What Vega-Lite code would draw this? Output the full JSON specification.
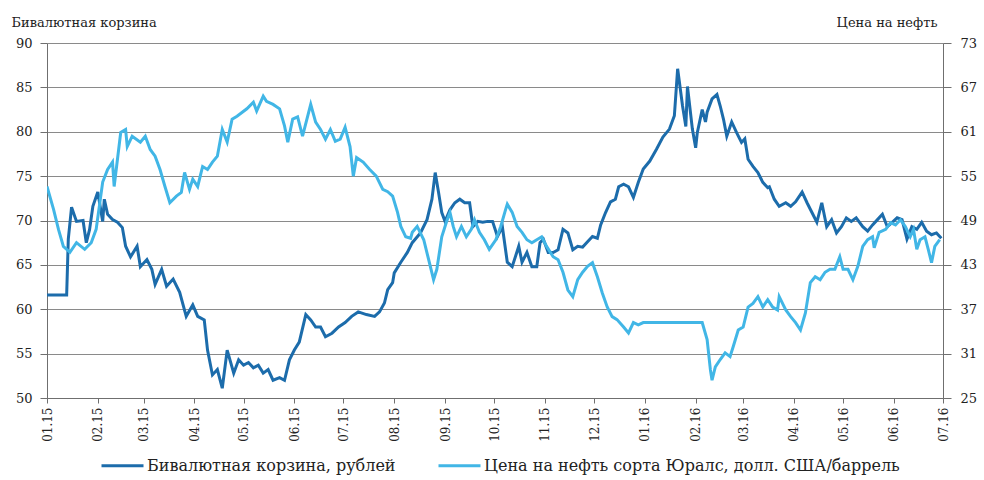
{
  "$schema": "https://vega.github.io/schema/vega-lite/v6.json",
  "width": 896,
  "height": 355,
  "autosize": {"type": "none"},
  "padding": {"left": 47, "top": 43, "right": 41, "bottom": 82},
  "background": "white",
  "config": {
    "view": {"stroke": null},
    "font": "DejaVu Serif",
    "axis": {"labelFont": "DejaVu Serif", "titleFont": "DejaVu Serif", "labelColor": "#222", "titleColor": "#222", "domainColor": "#6f6f6f", "tickColor": "#6f6f6f", "labelFontSize": 13, "titleFontSize": 13, "titleFontWeight": "normal"},
    "legend": {"labelFont": "DejaVu Serif", "labelFontSize": 16, "labelColor": "#222"}
  },
  "datasets": {
    "basket": [
      {"d": "2015-01-01", "v": 61.6}, {"d": "2015-01-13", "v": 61.6}, {"d": "2015-01-14", "v": 67.9}, {"d": "2015-01-16", "v": 71.5},
      {"d": "2015-01-19", "v": 69.9}, {"d": "2015-01-23", "v": 70.0}, {"d": "2015-01-25", "v": 67.5}, {"d": "2015-01-27", "v": 69.0},
      {"d": "2015-01-29", "v": 71.6}, {"d": "2015-02-01", "v": 73.2}, {"d": "2015-02-04", "v": 69.9}, {"d": "2015-02-05", "v": 72.4},
      {"d": "2015-02-07", "v": 70.7}, {"d": "2015-02-10", "v": 70.1}, {"d": "2015-02-13", "v": 69.8}, {"d": "2015-02-16", "v": 69.2},
      {"d": "2015-02-18", "v": 67.1}, {"d": "2015-02-21", "v": 65.9}, {"d": "2015-02-25", "v": 67.1}, {"d": "2015-02-27", "v": 64.8},
      {"d": "2015-03-03", "v": 65.6}, {"d": "2015-03-06", "v": 64.5}, {"d": "2015-03-08", "v": 62.8}, {"d": "2015-03-12", "v": 64.5},
      {"d": "2015-03-15", "v": 62.6}, {"d": "2015-03-19", "v": 63.4}, {"d": "2015-03-23", "v": 61.9}, {"d": "2015-03-27", "v": 59.2},
      {"d": "2015-03-31", "v": 60.5}, {"d": "2015-04-03", "v": 59.2}, {"d": "2015-04-07", "v": 58.8}, {"d": "2015-04-09", "v": 55.4},
      {"d": "2015-04-12", "v": 52.6}, {"d": "2015-04-15", "v": 53.2}, {"d": "2015-04-18", "v": 51.1}, {"d": "2015-04-21", "v": 55.4},
      {"d": "2015-04-25", "v": 52.8}, {"d": "2015-04-28", "v": 54.3}, {"d": "2015-05-01", "v": 53.7}, {"d": "2015-05-04", "v": 54.0},
      {"d": "2015-05-07", "v": 53.4}, {"d": "2015-05-10", "v": 53.7}, {"d": "2015-05-13", "v": 52.8}, {"d": "2015-05-16", "v": 53.2},
      {"d": "2015-05-19", "v": 52.0}, {"d": "2015-05-23", "v": 52.3}, {"d": "2015-05-26", "v": 52.0}, {"d": "2015-05-29", "v": 54.3},
      {"d": "2015-06-01", "v": 55.4}, {"d": "2015-06-04", "v": 56.3}, {"d": "2015-06-08", "v": 59.4}, {"d": "2015-06-11", "v": 58.8},
      {"d": "2015-06-14", "v": 58.0}, {"d": "2015-06-17", "v": 58.0}, {"d": "2015-06-20", "v": 56.9}, {"d": "2015-06-24", "v": 57.3},
      {"d": "2015-06-28", "v": 58.0}, {"d": "2015-07-02", "v": 58.5}, {"d": "2015-07-06", "v": 59.2}, {"d": "2015-07-10", "v": 59.7},
      {"d": "2015-07-15", "v": 59.4}, {"d": "2015-07-20", "v": 59.2}, {"d": "2015-07-23", "v": 59.7}, {"d": "2015-07-26", "v": 60.7},
      {"d": "2015-07-28", "v": 62.2}, {"d": "2015-07-31", "v": 63.0}, {"d": "2015-08-01", "v": 64.1}, {"d": "2015-08-05", "v": 65.3},
      {"d": "2015-08-09", "v": 66.4}, {"d": "2015-08-12", "v": 67.5}, {"d": "2015-08-17", "v": 68.6}, {"d": "2015-08-21", "v": 70.1},
      {"d": "2015-08-24", "v": 72.4}, {"d": "2015-08-26", "v": 75.4}, {"d": "2015-08-28", "v": 73.2}, {"d": "2015-08-30", "v": 70.9},
      {"d": "2015-09-01", "v": 69.9}, {"d": "2015-09-04", "v": 71.2}, {"d": "2015-09-07", "v": 72.0}, {"d": "2015-09-10", "v": 72.4},
      {"d": "2015-09-13", "v": 72.0}, {"d": "2015-09-16", "v": 72.0}, {"d": "2015-09-18", "v": 69.3}, {"d": "2015-09-21", "v": 69.9},
      {"d": "2015-09-24", "v": 69.8}, {"d": "2015-09-27", "v": 69.9}, {"d": "2015-09-30", "v": 69.9}, {"d": "2015-10-03", "v": 68.2},
      {"d": "2015-10-06", "v": 69.3}, {"d": "2015-10-09", "v": 65.3}, {"d": "2015-10-12", "v": 64.8}, {"d": "2015-10-16", "v": 67.1},
      {"d": "2015-10-18", "v": 65.3}, {"d": "2015-10-21", "v": 66.4}, {"d": "2015-10-24", "v": 64.8}, {"d": "2015-10-27", "v": 64.8},
      {"d": "2015-10-29", "v": 67.5}, {"d": "2015-10-31", "v": 67.9}, {"d": "2015-11-03", "v": 66.4}, {"d": "2015-11-06", "v": 66.4},
      {"d": "2015-11-09", "v": 66.7}, {"d": "2015-11-12", "v": 69.0}, {"d": "2015-11-15", "v": 68.6}, {"d": "2015-11-18", "v": 66.7},
      {"d": "2015-11-21", "v": 67.1}, {"d": "2015-11-24", "v": 67.0}, {"d": "2015-11-27", "v": 67.6}, {"d": "2015-11-30", "v": 68.2},
      {"d": "2015-12-03", "v": 68.0}, {"d": "2015-12-05", "v": 69.5}, {"d": "2015-12-08", "v": 70.9}, {"d": "2015-12-11", "v": 72.1},
      {"d": "2015-12-14", "v": 72.4}, {"d": "2015-12-16", "v": 73.8}, {"d": "2015-12-19", "v": 74.1}, {"d": "2015-12-22", "v": 73.8},
      {"d": "2015-12-25", "v": 72.6}, {"d": "2015-12-28", "v": 74.3}, {"d": "2015-12-31", "v": 75.8}, {"d": "2016-01-04", "v": 76.7},
      {"d": "2016-01-08", "v": 78.0}, {"d": "2016-01-12", "v": 79.4}, {"d": "2016-01-16", "v": 80.3}, {"d": "2016-01-19", "v": 81.8},
      {"d": "2016-01-21", "v": 87.1}, {"d": "2016-01-24", "v": 82.9}, {"d": "2016-01-26", "v": 80.6}, {"d": "2016-01-27", "v": 85.1},
      {"d": "2016-01-30", "v": 80.3}, {"d": "2016-02-01", "v": 78.2}, {"d": "2016-02-02", "v": 79.9}, {"d": "2016-02-05", "v": 82.5},
      {"d": "2016-02-07", "v": 81.1}, {"d": "2016-02-08", "v": 82.2}, {"d": "2016-02-11", "v": 83.7}, {"d": "2016-02-14", "v": 84.2},
      {"d": "2016-02-16", "v": 82.9}, {"d": "2016-02-18", "v": 81.4}, {"d": "2016-02-20", "v": 79.5}, {"d": "2016-02-23", "v": 81.1},
      {"d": "2016-02-26", "v": 79.9}, {"d": "2016-02-29", "v": 78.8}, {"d": "2016-03-02", "v": 79.2}, {"d": "2016-03-04", "v": 76.9},
      {"d": "2016-03-07", "v": 76.1}, {"d": "2016-03-10", "v": 75.4}, {"d": "2016-03-13", "v": 74.3}, {"d": "2016-03-16", "v": 73.7},
      {"d": "2016-03-17", "v": 73.8}, {"d": "2016-03-20", "v": 72.4}, {"d": "2016-03-23", "v": 71.6}, {"d": "2016-03-27", "v": 72.0},
      {"d": "2016-03-30", "v": 71.6}, {"d": "2016-04-02", "v": 72.1}, {"d": "2016-04-06", "v": 73.2}, {"d": "2016-04-09", "v": 72.0},
      {"d": "2016-04-12", "v": 70.9}, {"d": "2016-04-15", "v": 69.8}, {"d": "2016-04-18", "v": 72.0}, {"d": "2016-04-21", "v": 69.3},
      {"d": "2016-04-24", "v": 70.1}, {"d": "2016-04-27", "v": 68.6}, {"d": "2016-04-30", "v": 69.3}, {"d": "2016-05-03", "v": 70.3},
      {"d": "2016-05-06", "v": 69.9}, {"d": "2016-05-09", "v": 70.3}, {"d": "2016-05-13", "v": 69.3}, {"d": "2016-05-16", "v": 68.8},
      {"d": "2016-05-19", "v": 69.5}, {"d": "2016-05-22", "v": 70.1}, {"d": "2016-05-25", "v": 70.7}, {"d": "2016-05-28", "v": 69.3},
      {"d": "2016-05-31", "v": 69.8}, {"d": "2016-06-03", "v": 70.3}, {"d": "2016-06-06", "v": 70.1}, {"d": "2016-06-09", "v": 67.9},
      {"d": "2016-06-12", "v": 69.3}, {"d": "2016-06-15", "v": 69.0}, {"d": "2016-06-18", "v": 69.8}, {"d": "2016-06-21", "v": 68.8},
      {"d": "2016-06-24", "v": 68.4}, {"d": "2016-06-27", "v": 68.6}, {"d": "2016-06-30", "v": 68.0}
    ],
    "oil": [
      {"d": "2015-01-01", "v": 53.6}, {"d": "2015-01-05", "v": 50.5}, {"d": "2015-01-08", "v": 47.8}, {"d": "2015-01-11", "v": 45.5},
      {"d": "2015-01-15", "v": 44.7}, {"d": "2015-01-19", "v": 46.0}, {"d": "2015-01-24", "v": 45.1}, {"d": "2015-01-28", "v": 46.0},
      {"d": "2015-01-31", "v": 47.8}, {"d": "2015-02-04", "v": 54.2}, {"d": "2015-02-07", "v": 55.9}, {"d": "2015-02-10", "v": 56.9},
      {"d": "2015-02-11", "v": 53.6}, {"d": "2015-02-15", "v": 60.9}, {"d": "2015-02-18", "v": 61.3}, {"d": "2015-02-19", "v": 59.0},
      {"d": "2015-02-22", "v": 60.4}, {"d": "2015-02-27", "v": 59.6}, {"d": "2015-03-02", "v": 60.4}, {"d": "2015-03-05", "v": 58.6},
      {"d": "2015-03-08", "v": 57.7}, {"d": "2015-03-11", "v": 55.9}, {"d": "2015-03-14", "v": 53.6}, {"d": "2015-03-17", "v": 51.4},
      {"d": "2015-03-21", "v": 52.3}, {"d": "2015-03-24", "v": 52.8}, {"d": "2015-03-26", "v": 55.5}, {"d": "2015-03-29", "v": 53.2},
      {"d": "2015-03-31", "v": 54.6}, {"d": "2015-04-03", "v": 53.6}, {"d": "2015-04-06", "v": 56.3}, {"d": "2015-04-09", "v": 55.9},
      {"d": "2015-04-12", "v": 56.9}, {"d": "2015-04-15", "v": 57.7}, {"d": "2015-04-18", "v": 61.3}, {"d": "2015-04-21", "v": 59.6},
      {"d": "2015-04-24", "v": 62.7}, {"d": "2015-04-27", "v": 63.1}, {"d": "2015-04-30", "v": 63.6}, {"d": "2015-05-03", "v": 64.1},
      {"d": "2015-05-07", "v": 65.0}, {"d": "2015-05-09", "v": 63.8}, {"d": "2015-05-13", "v": 65.8}, {"d": "2015-05-15", "v": 65.1},
      {"d": "2015-05-19", "v": 64.7}, {"d": "2015-05-23", "v": 64.1}, {"d": "2015-05-26", "v": 61.8}, {"d": "2015-05-28", "v": 59.6},
      {"d": "2015-05-31", "v": 62.7}, {"d": "2015-06-03", "v": 63.0}, {"d": "2015-06-06", "v": 60.4}, {"d": "2015-06-11", "v": 64.7},
      {"d": "2015-06-14", "v": 62.3}, {"d": "2015-06-17", "v": 61.3}, {"d": "2015-06-20", "v": 60.0}, {"d": "2015-06-23", "v": 61.3},
      {"d": "2015-06-26", "v": 59.7}, {"d": "2015-06-29", "v": 60.0}, {"d": "2015-07-02", "v": 61.6}, {"d": "2015-07-05", "v": 59.0},
      {"d": "2015-07-07", "v": 55.0}, {"d": "2015-07-09", "v": 57.5}, {"d": "2015-07-13", "v": 56.9}, {"d": "2015-07-17", "v": 55.9},
      {"d": "2015-07-21", "v": 55.0}, {"d": "2015-07-25", "v": 53.2}, {"d": "2015-07-28", "v": 52.9}, {"d": "2015-07-31", "v": 52.3},
      {"d": "2015-08-03", "v": 50.1}, {"d": "2015-08-05", "v": 48.2}, {"d": "2015-08-08", "v": 46.8}, {"d": "2015-08-11", "v": 46.6},
      {"d": "2015-08-12", "v": 47.4}, {"d": "2015-08-15", "v": 48.2}, {"d": "2015-08-19", "v": 46.4}, {"d": "2015-08-22", "v": 43.7},
      {"d": "2015-08-25", "v": 41.0}, {"d": "2015-08-27", "v": 42.4}, {"d": "2015-08-30", "v": 46.8}, {"d": "2015-09-02", "v": 48.9},
      {"d": "2015-09-04", "v": 50.1}, {"d": "2015-09-06", "v": 48.2}, {"d": "2015-09-08", "v": 46.8}, {"d": "2015-09-11", "v": 48.2},
      {"d": "2015-09-14", "v": 46.8}, {"d": "2015-09-17", "v": 47.8}, {"d": "2015-09-19", "v": 49.1}, {"d": "2015-09-22", "v": 47.4},
      {"d": "2015-09-25", "v": 46.4}, {"d": "2015-09-28", "v": 45.1}, {"d": "2015-10-02", "v": 46.4}, {"d": "2015-10-05", "v": 48.2},
      {"d": "2015-10-08", "v": 50.5}, {"d": "2015-10-09", "v": 51.2}, {"d": "2015-10-12", "v": 50.1}, {"d": "2015-10-15", "v": 48.2},
      {"d": "2015-10-18", "v": 47.4}, {"d": "2015-10-21", "v": 46.4}, {"d": "2015-10-24", "v": 46.0}, {"d": "2015-10-27", "v": 46.4},
      {"d": "2015-10-30", "v": 46.8}, {"d": "2015-11-02", "v": 45.5}, {"d": "2015-11-06", "v": 44.1}, {"d": "2015-11-09", "v": 43.7},
      {"d": "2015-11-12", "v": 42.0}, {"d": "2015-11-15", "v": 39.6}, {"d": "2015-11-18", "v": 38.7}, {"d": "2015-11-21", "v": 41.0},
      {"d": "2015-11-24", "v": 42.0}, {"d": "2015-11-27", "v": 42.8}, {"d": "2015-11-30", "v": 43.3}, {"d": "2015-12-03", "v": 41.4},
      {"d": "2015-12-06", "v": 39.2}, {"d": "2015-12-09", "v": 37.3}, {"d": "2015-12-12", "v": 36.0}, {"d": "2015-12-15", "v": 35.6},
      {"d": "2015-12-19", "v": 34.6}, {"d": "2015-12-22", "v": 33.8}, {"d": "2015-12-25", "v": 35.2}, {"d": "2015-12-28", "v": 34.9},
      {"d": "2015-12-31", "v": 35.2}, {"d": "2016-02-05", "v": 35.2}, {"d": "2016-02-08", "v": 32.9}, {"d": "2016-02-10", "v": 28.8},
      {"d": "2016-02-11", "v": 27.4}, {"d": "2016-02-13", "v": 29.2}, {"d": "2016-02-16", "v": 30.2}, {"d": "2016-02-19", "v": 31.1},
      {"d": "2016-02-22", "v": 30.6}, {"d": "2016-02-24", "v": 32.0}, {"d": "2016-02-27", "v": 34.2}, {"d": "2016-03-01", "v": 34.6},
      {"d": "2016-03-04", "v": 37.3}, {"d": "2016-03-07", "v": 37.8}, {"d": "2016-03-10", "v": 38.7}, {"d": "2016-03-13", "v": 37.3},
      {"d": "2016-03-16", "v": 38.3}, {"d": "2016-03-19", "v": 37.3}, {"d": "2016-03-22", "v": 36.9}, {"d": "2016-03-23", "v": 38.7},
      {"d": "2016-03-27", "v": 36.9}, {"d": "2016-03-30", "v": 36.0}, {"d": "2016-04-02", "v": 35.2}, {"d": "2016-04-05", "v": 34.2},
      {"d": "2016-04-08", "v": 36.5}, {"d": "2016-04-11", "v": 40.6}, {"d": "2016-04-14", "v": 41.4}, {"d": "2016-04-17", "v": 41.0},
      {"d": "2016-04-20", "v": 42.0}, {"d": "2016-04-23", "v": 42.4}, {"d": "2016-04-26", "v": 42.4}, {"d": "2016-04-29", "v": 44.1},
      {"d": "2016-05-01", "v": 42.4}, {"d": "2016-05-04", "v": 42.4}, {"d": "2016-05-07", "v": 41.0}, {"d": "2016-05-10", "v": 42.8},
      {"d": "2016-05-13", "v": 45.5}, {"d": "2016-05-16", "v": 46.4}, {"d": "2016-05-19", "v": 46.8}, {"d": "2016-05-20", "v": 45.3},
      {"d": "2016-05-23", "v": 47.4}, {"d": "2016-05-27", "v": 47.8}, {"d": "2016-05-30", "v": 48.7}, {"d": "2016-06-02", "v": 48.4},
      {"d": "2016-06-05", "v": 49.1}, {"d": "2016-06-08", "v": 48.2}, {"d": "2016-06-11", "v": 46.8}, {"d": "2016-06-13", "v": 47.8},
      {"d": "2016-06-15", "v": 45.1}, {"d": "2016-06-17", "v": 46.4}, {"d": "2016-06-20", "v": 46.8}, {"d": "2016-06-22", "v": 45.1},
      {"d": "2016-06-24", "v": 43.3}, {"d": "2016-06-26", "v": 45.5}, {"d": "2016-06-29", "v": 46.4}
    ]
  },
  "layer": [
    {
      "data": {"name": "basket"},
      "mark": {"type": "line", "strokeWidth": 3, "clip": true},
      "encoding": {
        "x": {
          "field": "d", "type": "temporal",
          "scale": {"type": "utc", "domain": [{"year": 2015, "month": 1, "date": 1, "utc": true}, {"year": 2016, "month": 7, "date": 1, "utc": true}]},
          "axis": {"title": null, "labelExpr": "utcFormat(datum.value, '%m.%y')", "tickCount": {"interval": "month", "step": 1}, "labelAngle": -90, "labelPadding": 4, "tickSize": 5, "grid": false, "domainColor": "#6f6f6f", "labelFontSize": 12, "labelOverlap": false}
        },
        "y": {
          "field": "v", "type": "quantitative",
          "scale": {"domain": [50, 90], "nice": false, "zero": false},
          "axis": {"orient": "left", "values": [50, 55, 60, 65, 70, 75, 80, 85, 90], "grid": true, "gridColor": "#8a8a8a", "gridWidth": 1.2, "tickSize": 7, "labelPadding": 8,
            "title": "Бивалютная корзина", "titleAngle": 0, "titleAlign": "left", "titleBaseline": "alphabetic", "titleX": -36, "titleY": -17}
        },
        "color": {"datum": "Бивалютная корзина, рублей", "type": "nominal",
          "scale": {"domain": ["Бивалютная корзина, рублей", "Цена на нефть сорта Юралс, долл. США/баррель"], "range": ["#1c6cab", "#41b6e6"]},
          "legend": {"title": null, "orient": "none", "legendX": 53, "legendY": 400, "direction": "horizontal", "symbolType": "stroke", "symbolSize": 1764, "symbolStrokeWidth": 3, "labelLimit": 600, "columnPadding": 36, "labelOffset": 2}
        }
      }
    },
    {
      "data": {"name": "oil"},
      "mark": {"type": "line", "strokeWidth": 3, "clip": true},
      "encoding": {
        "x": {"field": "d", "type": "temporal"},
        "y": {
          "field": "v", "type": "quantitative",
          "scale": {"domain": [25, 73], "nice": false, "zero": false},
          "axis": {"orient": "right", "values": [25, 31, 37, 43, 49, 55, 61, 67, 73], "grid": false, "tickSize": 8, "labelPadding": 9,
            "title": "Цена на нефть", "titleAngle": 0, "titleAlign": "right", "titleBaseline": "alphabetic", "titleX": -6, "titleY": -17}
        },
        "color": {"datum": "Цена на нефть сорта Юралс, долл. США/баррель", "type": "nominal"}
      }
    }
  ],
  "resolve": {"scale": {"y": "independent"}}
}
